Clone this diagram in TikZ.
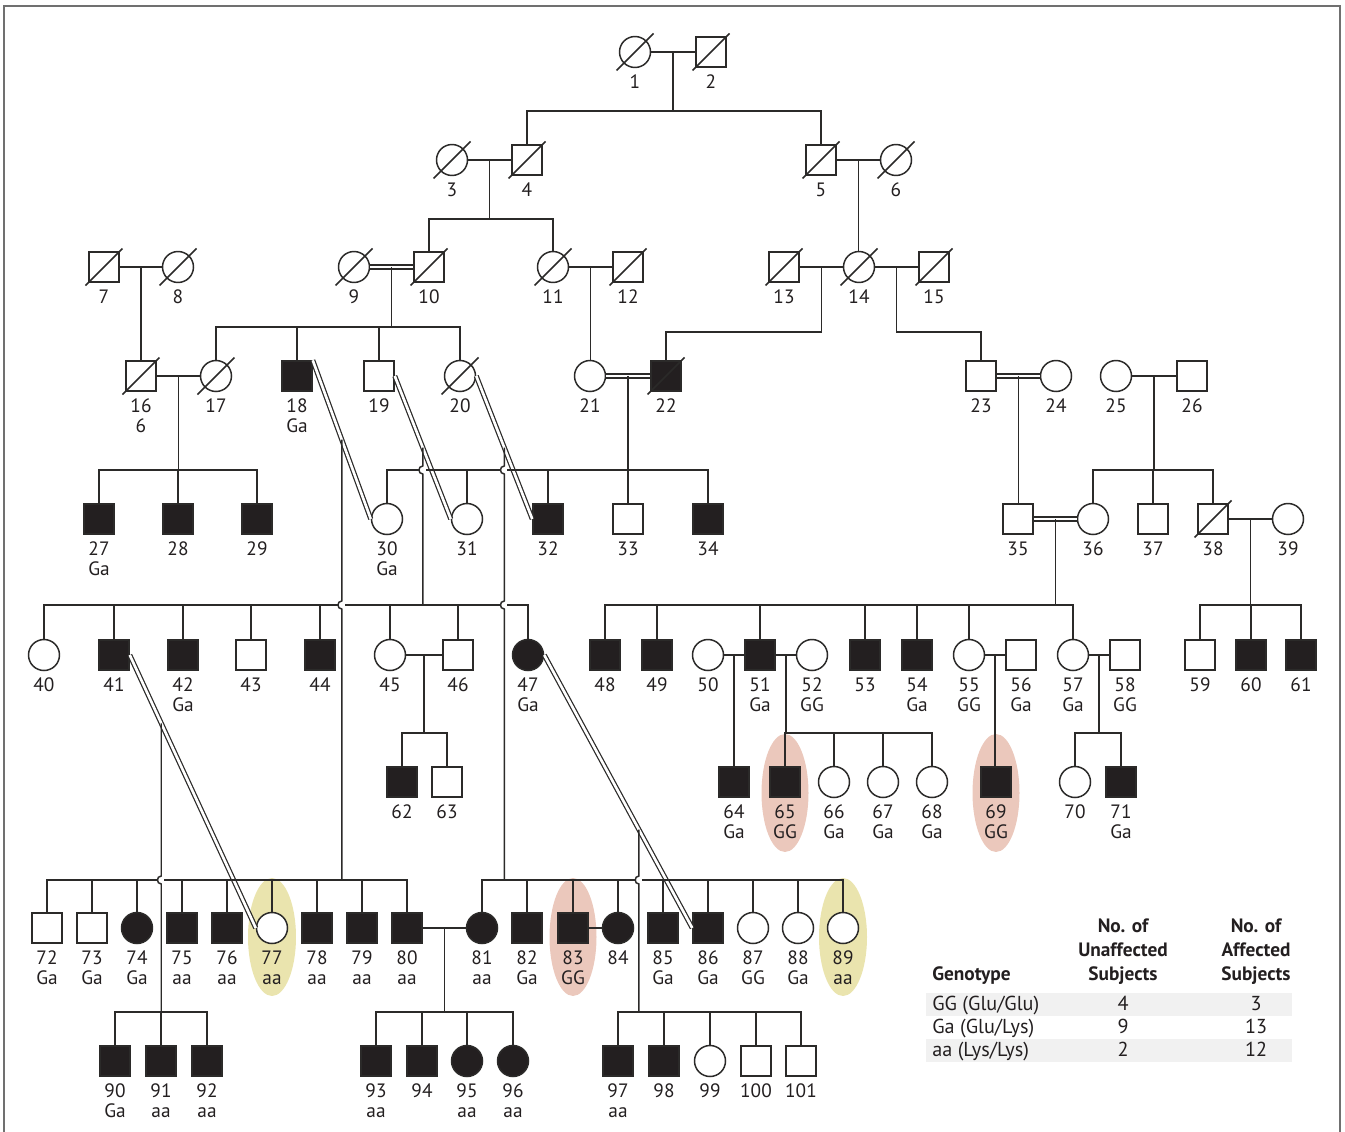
\documentclass[tikz,border=0pt]{standalone}
\usepackage{fontspec}
\setmainfont{PT Sans}
\usetikzlibrary{calc}
\definecolor{ink}{HTML}{231F20}
\definecolor{pedline}{HTML}{2B2A29}
\definecolor{framegray}{HTML}{707070}
\definecolor{ggmark}{HTML}{EBC8BC}
\definecolor{aamark}{HTML}{EAE4AE}
\definecolor{band}{HTML}{F1F1F1}

\begin{document}
\begin{tikzpicture}[x=.02cm,y=-.02cm,
  every node/.style={text=ink},
  num/.style={font=\fontsize{11}{11.4}\selectfont,inner sep=0pt,align=center},
  id/.style={label={[num]below:#1}},
  label distance=.13cm,
  ind/.style={draw=pedline,line width=.85pt,fill=white,inner sep=0pt},
  male/.style={ind,rectangle,minimum size=.6cm},
  female/.style={ind,circle,minimum size=.62cm},
  aff/.style={fill=ink},
  link/.style={draw=pedline,line width=.85pt},
  cons/.style={draw=pedline,line width=.7pt,double=white,double distance=1.5pt},
  slash/.style={draw=pedline,line width=.85pt},
  hop/.style={out=180,in=180,looseness=1.6}]

% Picture is laid out in pixels of the 1345 x 1132 figure, y pointing down.
\useasboundingbox (0,0) rectangle (1345,1132);
\draw[framegray,line width=1.1pt] (4,1132) -- (4,6) -- (1340,6) -- (1340,1132);

% heights of the sibship lines
\coordinate (y111)  at (0,111);
\coordinate (y219)  at (0,219);
\coordinate (y327)  at (0,327);
\coordinate (y332)  at (0,332);
\coordinate (y470)  at (0,470);
\coordinate (y605)  at (0,605);
\coordinate (y733)  at (0,733);
\coordinate (y880)  at (0,880);
\coordinate (y1012) at (0,1012);

% -------------------------------------------------------------------------
% Genotype highlights (behind the symbols).
% -------------------------------------------------------------------------
\fill[ggmark] (785,793) ellipse [x radius=.47cm,y radius=1.18cm];
\fill[ggmark] (996,793) ellipse [x radius=.47cm,y radius=1.18cm];
\fill[ggmark] (573,937) ellipse [x radius=.47cm,y radius=1.18cm];
\fill[aamark] (272,937) ellipse [x radius=.48cm,y radius=1.18cm];
\fill[aamark] (843,937) ellipse [x radius=.48cm,y radius=1.18cm];

% -------------------------------------------------------------------------
% Generations I-III
% -------------------------------------------------------------------------
\node[female,id=1] (p1) at (635,52) {};
\node[male,id=2]   (p2) at (711,52) {};

\node[female,id=3] (p3) at (452,160) {};
\node[male,id=4]   (p4) at (527,160) {};
\node[male,id=5]   (p5) at (821,160) {};
\node[female,id=6] (p6) at (896,160) {};

\node[male,id=7]    (p7)  at (104,267) {};
\node[female,id=8]  (p8)  at (178,267) {};
\node[female,id=9]  (p9)  at (354,267) {};
\node[male,id=10]   (p10) at (429,267) {};
\node[female,id=11] (p11) at (553,267) {};
\node[male,id=12]   (p12) at (628,267) {};
\node[male,id=13]   (p13) at (784,267) {};
\node[female,id=14] (p14) at (859,267) {};
\node[male,id=15]   (p15) at (934,267) {};

% -------------------------------------------------------------------------
% Generations IV-V
% -------------------------------------------------------------------------
\node[male,id={16\\6}]      (p16) at (141,376) {};
\node[female,id=17]         (p17) at (216,376) {};
\node[male,aff,id={18\\Ga}] (p18) at (297,376) {};
\node[male,id=19]           (p19) at (379,376) {};
\node[female,id=20]         (p20) at (460,376) {};
\node[female,id=21]         (p21) at (590,376) {};
\node[male,aff,id=22]       (p22) at (666,376) {};
\node[male,id=23]           (p23) at (981,376) {};
\node[female,id=24]         (p24) at (1056,376) {};
\node[female,id=25]         (p25) at (1116,376) {};
\node[male,id=26]           (p26) at (1192,376) {};

\node[male,aff,id={27\\Ga}] (p27) at (99,519) {};
\node[male,aff,id=28]       (p28) at (178,519) {};
\node[male,aff,id=29]       (p29) at (257,519) {};
\node[female,id={30\\Ga}]   (p30) at (387,519) {};
\node[female,id=31]         (p31) at (467,519) {};
\node[male,aff,id=32]       (p32) at (548,519) {};
\node[male,id=33]           (p33) at (628,519) {};
\node[male,aff,id=34]       (p34) at (708,519) {};
\node[male,id=35]           (p35) at (1018,519) {};
\node[female,id=36]         (p36) at (1093,519) {};
\node[male,id=37]           (p37) at (1153,519) {};
\node[male,id=38]           (p38) at (1213,519) {};
\node[female,id=39]         (p39) at (1288,519) {};

% -------------------------------------------------------------------------
% Generations VI-VII
% -------------------------------------------------------------------------
\node[female,id=40]           (p40) at (44,655) {};
\node[male,aff,id=41]         (p41) at (114,655) {};
\node[male,aff,id={42\\Ga}]   (p42) at (183,655) {};
\node[male,id=43]             (p43) at (251,655) {};
\node[male,aff,id=44]         (p44) at (320,655) {};
\node[female,id=45]           (p45) at (390,655) {};
\node[male,id=46]             (p46) at (458,655) {};
\node[female,aff,id={47\\Ga}] (p47) at (528,655) {};
\node[male,aff,id=48]         (p48) at (605,655) {};
\node[male,aff,id=49]         (p49) at (657,655) {};
\node[female,id=50]           (p50) at (708,655) {};
\node[male,aff,id={51\\Ga}]   (p51) at (760,655) {};
\node[female,id={52\\GG}]     (p52) at (812,655) {};
\node[male,aff,id=53]         (p53) at (865,655) {};
\node[male,aff,id={54\\Ga}]   (p54) at (917,655) {};
\node[female,id={55\\GG}]     (p55) at (969,655) {};
\node[male,id={56\\Ga}]       (p56) at (1021,655) {};
\node[female,id={57\\Ga}]     (p57) at (1073,655) {};
\node[male,id={58\\GG}]       (p58) at (1125,655) {};
\node[male,id=59]             (p59) at (1200,655) {};
\node[male,aff,id=60]         (p60) at (1251,655) {};
\node[male,aff,id=61]         (p61) at (1301,655) {};

\node[male,aff,id=62]         (p62) at (402,782) {};
\node[male,id=63]             (p63) at (447,782) {};
\node[male,aff,id={64\\Ga}]   (p64) at (734,782) {};
\node[male,aff,id={65\\GG}]   (p65) at (785,782) {};
\node[female,id={66\\Ga}]     (p66) at (834,782) {};
\node[female,id={67\\Ga}]     (p67) at (883,782) {};
\node[female,id={68\\Ga}]     (p68) at (932,782) {};
\node[male,aff,id={69\\GG}]   (p69) at (996,782) {};
\node[female,id=70]           (p70) at (1075,782) {};
\node[male,aff,id={71\\Ga}]   (p71) at (1121,782) {};

% -------------------------------------------------------------------------
% Generations VIII-IX
% -------------------------------------------------------------------------
\node[male,id={72\\Ga}]       (p72) at (47,928) {};
\node[male,id={73\\Ga}]       (p73) at (92,928) {};
\node[female,aff,id={74\\Ga}] (p74) at (137,928) {};
\node[male,aff,id={75\\aa}]   (p75) at (182,928) {};
\node[male,aff,id={76\\aa}]   (p76) at (227,928) {};
\node[female,id={77\\aa}]     (p77) at (272,928) {};
\node[male,aff,id={78\\aa}]   (p78) at (317,928) {};
\node[male,aff,id={79\\aa}]   (p79) at (362,928) {};
\node[male,aff,id={80\\aa}]   (p80) at (407,928) {};
\node[female,aff,id={81\\aa}] (p81) at (482,928) {};
\node[male,aff,id={82\\Ga}]   (p82) at (527,928) {};
\node[male,aff,id={83\\GG}]   (p83) at (573,928) {};
\node[female,aff,id=84]       (p84) at (618,928) {};
\node[male,aff,id={85\\Ga}]   (p85) at (663,928) {};
\node[male,aff,id={86\\Ga}]   (p86) at (708,928) {};
\node[female,id={87\\GG}]     (p87) at (753,928) {};
\node[female,id={88\\Ga}]     (p88) at (798,928) {};
\node[female,id={89\\aa}]     (p89) at (843,928) {};

\node[male,aff,id={90\\Ga}]   (p90)  at (115,1061) {};
\node[male,aff,id={91\\aa}]   (p91)  at (161,1061) {};
\node[male,aff,id={92\\aa}]   (p92)  at (207,1061) {};
\node[male,aff,id={93\\aa}]   (p93)  at (376,1061) {};
\node[male,aff,id=94]         (p94)  at (422,1061) {};
\node[female,aff,id={95\\aa}] (p95)  at (467,1061) {};
\node[female,aff,id={96\\aa}] (p96)  at (513,1061) {};
\node[male,aff,id={97\\aa}]   (p97)  at (618,1061) {};
\node[male,aff,id=98]         (p98)  at (664,1061) {};
\node[female,id=99]           (p99)  at (710,1061) {};
\node[male,id=100]            (p100) at (756,1061) {};
\node[male,id=101]            (p101) at (801,1061) {};

% deceased
\foreach \n in {p1,p2,p3,p4,p5,p6,p7,p8,p9,p10,p11,p12,p13,p14,p15,p16,p17,p20,p22,p38}
  \draw[slash] ([shift={(-18.5,18.5)}]\n.center) -- ([shift={(18.5,-18.5)}]\n.center);

% -------------------------------------------------------------------------
% Matings and sibships, top down.
% -------------------------------------------------------------------------
\draw[link] (p1) -- (p2);
\coordinate (m12) at ($(p1)!.5!(p2)$);
\draw[link] (m12) -- (m12 |- y111) coordinate (b12);
\draw[link] (p4.north) |- (b12) -| (p5.north);

\draw[link] (p3) -- (p4);
\coordinate (m34) at ($(p3)!.5!(p4)$);
\draw[link] (m34) -- (m34 |- y219) coordinate (b34);
\draw[link] (p10.north) |- (b34) -| (p11.north);

\draw[link] (p5) -- (p6);
\coordinate (m56) at ($(p5)!.5!(p6)$);
\draw[link] (m56) -- (m56 |- p14.north);

\draw[link] (p7) -- (p8);
\coordinate (m78) at ($(p7)!.5!(p8)$);
\draw[link] (m78) -- (m78 |- p16.north);

\draw[cons] (p9) -- (p10);
\coordinate (m910) at ($(p9)!.5!(p10)$);
\draw[link] (m910) -- (m910 |- y327) coordinate (b910);
\draw[link] (p17.north) |- (b910) -| (p20.north);
\foreach \c in {p18,p19} \draw[link] (\c.north) -- (\c.north |- y327);

\draw[link] (p11) -- (p12);
\coordinate (m1112) at ($(p11)!.5!(p12)$);
\draw[link] (m1112) -- (m1112 |- p21.north);

\draw[link] (p13) -- (p14);
\draw[link] (p14) -- (p15);
\coordinate (m1314) at ($(p13)!.5!(p14)$);
\coordinate (m1415) at ($(p14)!.5!(p15)$);
\draw[link] (m1314) -- (m1314 |- y332) -| (p22.north);
\draw[link] (m1415) -- (m1415 |- y332) -| (p23.north);

\draw[link] (p16) -- (p17);
\coordinate (m1617) at ($(p16)!.5!(p17)$);
\draw[link] (m1617) -- (m1617 |- y470) coordinate (b1617);
\draw[link] (p27.north) |- (b1617) -| (p29.north);
\draw[link] (p28.north) -- (p28.north |- y470);

\draw[cons] (p21) -- (p22);
\draw[cons] (p23) -- (p24);
\coordinate (m2122) at ($(p21)!.5!(p22)$);
\coordinate (m2324) at ($(p23)!.5!(p24)$);
\draw[link] (m2122) -- (m2122 |- y470);
\draw[link] (m2324) -- (m2324 |- p35.north);

\draw[link] (p25) -- (p26);
\coordinate (m2526) at ($(p25)!.5!(p26)$);
\draw[link] (m2526) -- (m2526 |- y470) coordinate (b2526);
\draw[link] (p36.north) |- (b2526) -| (p38.north);
\draw[link] (p37.north) -- (p37.north |- y470);

% cousin marriages drawn on the slant
\draw[cons] (p18.north east) -- (p30.west);
\draw[cons] (p19.east) -- (p31.west);
\draw[cons] (p20.east) -- (p32.west);
\draw[cons] (p41.east) -- (p77.west);
\draw[cons] (p47.east) -- (p86.west);
\coordinate (d1830) at ($(p18.north east)!.5!(p30.west)$);
\coordinate (d1931) at ($(p19.east)!.5!(p31.west)$);
\coordinate (d2032) at ($(p20.east)!.5!(p32.west)$);
\coordinate (d4177) at ($(p41.east)!.25!(p77.west)$);
\coordinate (d4786) at ($(p47.east)!.64!(p86.west)$);

% crossings where a descent line jumps a sibship line
\coordinate (hA) at (d1931 |- y470);
\coordinate (hB) at (d2032 |- y470);
\coordinate (hC) at (d1830 |- y605);
\coordinate (hD) at (d2032 |- y605);
\coordinate (hE) at (d4177 |- y880);
\coordinate (hF) at (d4786 |- y880);

% children of 21 and 22
\draw[link] (p30.north) |- ($(hA)+(-4,0)$);
\draw[link] ($(hA)+(3,0)$) -- ($(hB)+(-4,0)$);
\draw[link] ($(hB)+(3,0)$) -| (p34.north);
\foreach \c in {p31,p32,p33} \draw[link] (\c.north) -- (\c.north |- y470);

% descent lines of the cousin marriages
\draw[link] (d1830) -- ($(hC)+(0,-4)$) to[hop] ($(hC)+(0,4)$) -- (d1830 |- y880);
\draw[link] (d1931) -- ($(hA)+(0,-4)$) to[hop] ($(hA)+(0,4)$) -- (d1931 |- y605);
\draw[link] (d2032) -- ($(hB)+(0,-4)$) to[hop] ($(hB)+(0,4)$)
  -- ($(hD)+(0,-4)$) to[hop] ($(hD)+(0,4)$) -- (d2032 |- y880);
\draw[link] (d4177) -- ($(hE)+(0,-4)$) to[hop] ($(hE)+(0,4)$) -- (d4177 |- y1012);
\draw[link] (d4786) -- ($(hF)+(0,-4)$) to[hop] ($(hF)+(0,4)$) -- (d4786 |- y1012);

% children of 19 and 31
\draw[link] (p40.north) |- ($(hC)+(-4,0)$);
\draw[link] ($(hC)+(3,0)$) -- ($(hD)+(-4,0)$);
\draw[link] ($(hD)+(3,0)$) -| (p47.north);
\foreach \c in {p41,p42,p43,p44,p45,p46} \draw[link] (\c.north) -- (\c.north |- y605);

% children of 35 and 36, and of 38 and 39
\draw[cons] (p35) -- (p36);
\coordinate (m3536) at ($(p35)!.5!(p36)$);
\draw[link] (m3536) -- (m3536 |- y605) coordinate (b3536);
\draw[link] (p48.north) |- (b3536) -| (p57.north);
\foreach \c in {p49,p51,p53,p54,p55} \draw[link] (\c.north) -- (\c.north |- y605);

\draw[link] (p38) -- (p39);
\coordinate (m3839) at ($(p38)!.5!(p39)$);
\draw[link] (m3839) -- (m3839 |- y605) coordinate (b3839);
\draw[link] (p59.north) |- (b3839) -| (p61.north);
\draw[link] (p60.north) -- (p60.north |- y605);

% generation VI matings
\draw[link] (p45) -- (p46);
\coordinate (m4546) at ($(p45)!.5!(p46)$);
\draw[link] (m4546) -- (m4546 |- y733) coordinate (b4546);
\draw[link] (p62.north) |- (b4546) -| (p63.north);

\draw[link] (p50) -- (p51);
\draw[link] (p51) -- (p52);
\coordinate (m5051) at ($(p50)!.5!(p51)$);
\coordinate (m5152) at ($(p51)!.5!(p52)$);
\draw[link] (m5051) -- (m5051 |- p64.north);
\draw[link] (m5152) -- (m5152 |- y733) coordinate (b5152);
\draw[link] (p65.north) |- (b5152) -| (p68.north);
\foreach \c in {p66,p67} \draw[link] (\c.north) -- (\c.north |- y733);

\draw[link] (p55) -- (p56);
\coordinate (m5556) at ($(p55)!.5!(p56)$);
\draw[link] (m5556) -- (m5556 |- p69.north);

\draw[link] (p57) -- (p58);
\coordinate (m5758) at ($(p57)!.5!(p58)$);
\draw[link] (m5758) -- (m5758 |- y733) coordinate (b5758);
\draw[link] (p70.north) |- (b5758) -| (p71.north);

% children of 18 and 30, and of 20 and 32
\draw[link] (p72.north) |- ($(hE)+(-4,0)$);
\draw[link] ($(hE)+(3,0)$) -| (p80.north);
\foreach \c in {p73,p74,p75,p76,p77,p78,p79} \draw[link] (\c.north) -- (\c.north |- y880);
\draw[link] (p81.north) |- ($(hF)+(-4,0)$);
\draw[link] ($(hF)+(3,0)$) -| (p89.north);
\foreach \c in {p82,p83,p84,p85,p86,p87,p88} \draw[link] (\c.north) -- (\c.north |- y880);

% generation VIII matings and generation IX
\draw[link] (p80) -- (p81);
\draw[link] (p83) -- (p84);
\coordinate (m8081) at ($(p80)!.5!(p81)$);
\draw[link] (m8081) -- (m8081 |- y1012) coordinate (b8081);
\draw[link] (p93.north) |- (b8081) -| (p96.north);
\foreach \c in {p94,p95} \draw[link] (\c.north) -- (\c.north |- y1012);

\draw[link] (p90.north) |- (d4177 |- y1012) -| (p92.north);
\draw[link] (p91.north) -- (p91.north |- y1012);
\draw[link] (p97.north) |- (d4786 |- y1012) -| (p101.north);
\foreach \c in {p98,p99,p100} \draw[link] (\c.north) -- (\c.north |- y1012);

% -------------------------------------------------------------------------
% Genotype table.
% -------------------------------------------------------------------------
\begin{scope}[head/.style={font=\bfseries\fontsize{11}{13.6}\selectfont,inner sep=0pt,align=center},
  entry/.style={font=\fontsize{11.5}{13}\selectfont,inner sep=0pt}]
  \fill[band] (926,993) rectangle (1292,1016);
  \fill[band] (926,1039) rectangle (1292,1062);
  \node[head,anchor=south west] (hgeno)  at (932,985)  {Genotype};
  \node[head,anchor=south]      (hunaff) at (1123,985) {No. of\\Unaffected\\Subjects};
  \node[head,anchor=south]      (haff)   at (1256,985) {No. of\\Affected\\Subjects};
  \node[entry,anchor=base west] (gGG) at (932,1010) {GG (Glu/Glu)};
  \node[entry,anchor=base]      (uGG) at (1123,1010) {4};
  \node[entry,anchor=base]      (aGG) at (1256,1010) {3};
  \node[entry,anchor=base west] (gGa) at (932,1033) {Ga (Glu/Lys)};
  \node[entry,anchor=base]      (uGa) at (1123,1033) {9};
  \node[entry,anchor=base]      (aGa) at (1256,1033) {13};
  \node[entry,anchor=base west] (gaa) at (932,1056) {aa (Lys/Lys)};
  \node[entry,anchor=base]      (uaa) at (1123,1056) {2};
  \node[entry,anchor=base]      (aaa) at (1256,1056) {12};
\end{scope}
\end{tikzpicture}
\end{document}
